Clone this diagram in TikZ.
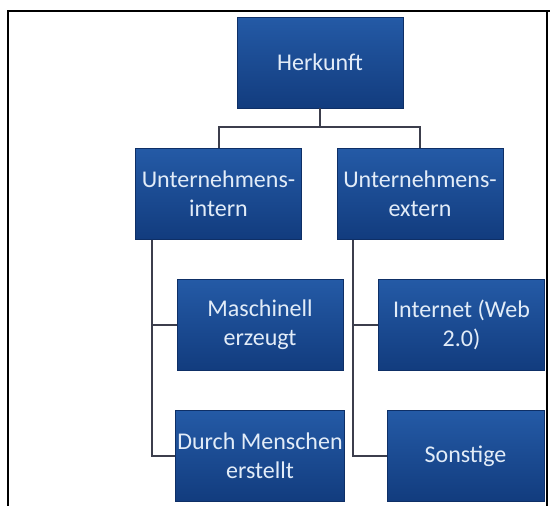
\documentclass[tikz,border=0pt]{standalone}
\usepackage{fontspec}
\setmainfont{Carlito}
\begin{document}
\begin{tikzpicture}[x=1pt,y=-1pt,
  box/.style={rectangle, minimum width=166pt, minimum height=91pt,
    inner sep=2pt, align=center,
    top color=boxtop, bottom color=boxbot, draw=boxedge, line width=0.8pt,
    font=\fontsize{24}{29}\selectfont, text=boxtext},
  link/.style={draw=linkgray, line width=2pt},
  frame/.style={draw=black, line width=2pt}]
\definecolor{boxtop}{HTML}{245AA6}
\definecolor{boxbot}{HTML}{123C7E}
\definecolor{boxedge}{HTML}{0E2F66}
\definecolor{boxtext}{HTML}{E2ECF8}
\definecolor{linkgray}{HTML}{3C3E4C}
\useasboundingbox (0,0) rectangle (550,506);
% outer frame
\draw[frame] (8,506) -- (8,11) -- (550,11);
\draw[frame] (547,11) -- (547,506);
% boxes
\node[box] (root) at (320,62.5) {Herkunft};
\node[box] (intern) at (218.5,194) {Unternehmens-\\intern};
\node[box] (extern) at (420,194) {Unternehmens-\\extern};
\node[box] (masch) at (260,325) {Maschinell\\erzeugt};
\node[box] (mensch) at (260,456) {Durch Menschen\\erstellt};
\node[box] (web) at (461.5,325) {Internet (Web\\2.0)};
\node[box, minimum width=157pt] (sonst) at (465.5,456) {Sonstige};
% connectors
\coordinate (bar) at (320,127);
\draw[link] (root.south) -- (bar);
\draw[link] (intern.north) |- (bar) -| (extern.north);
\coordinate (ltrunk) at (152,0);
\coordinate (rtrunk) at (353,0);
\draw[link] (intern.south -| ltrunk) |- (mensch.west);
\draw[link] (masch.west) -- (masch.west -| ltrunk);
\draw[link] (extern.south -| rtrunk) |- (sonst.west);
\draw[link] (web.west) -- (web.west -| rtrunk);
\end{tikzpicture}
\end{document}
